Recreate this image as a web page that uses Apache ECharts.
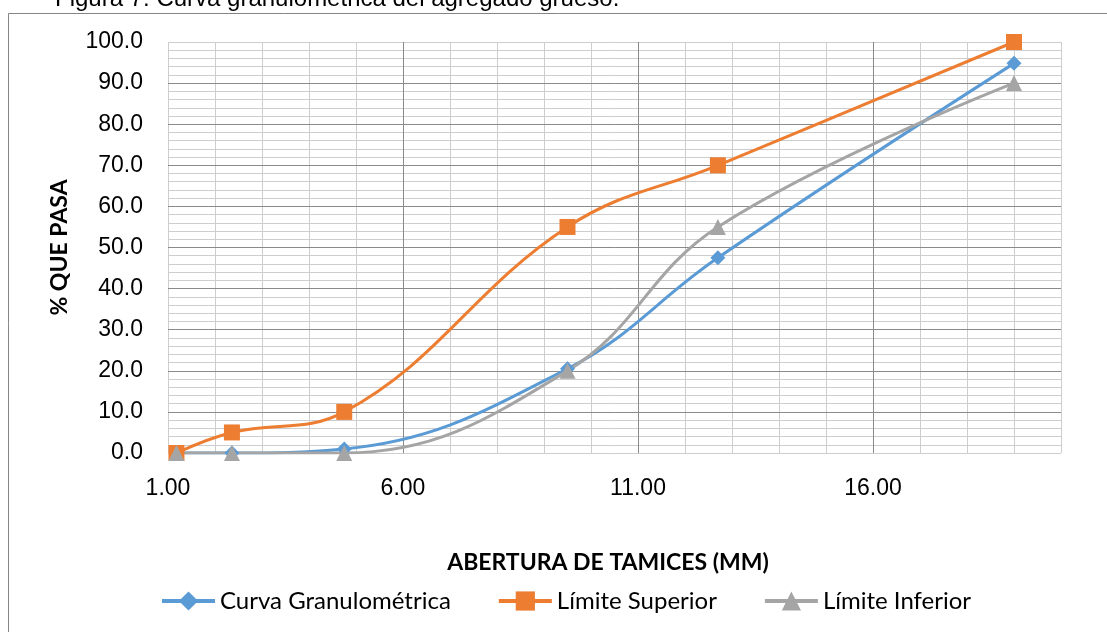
<!DOCTYPE html>
<html>
<head>
<meta charset="utf-8">
<script src="https://cdn.jsdelivr.net/npm/echarts@6/dist/echarts.min.js"></script>
<style>
html,body{margin:0;padding:0;background:#fff;}
#chart{width:1107px;height:632px;}
</style>
</head>
<body>
<div id="chart"></div>
<script>
// Data
const sieveSizes = [1.18, 2.36, 4.75, 9.5, 12.7, 19.0];
const curvaGranulometrica = [0, 0, 1.0, 20.5, 47.5, 94.8];
const limiteSuperior = [0, 5, 10, 55, 70, 100];
const limiteInferior = [0, 0, 0, 20, 55, 90];
const seriesNames = ['Curva Granulométrica', 'Límite Superior', 'Límite Inferior'];
const titleText = 'Figura 7: Curva granulométrica del agregado grueso.';
const xAxisTitle = 'ABERTURA DE TAMICES (MM)';
const yAxisTitle = '% QUE PASA';

const pairs = (ys) => sieveSizes.map((x, i) => [x, ys[i]]);

const chart = echarts.init(document.getElementById('chart'), null, {renderer: 'canvas'});
const tickFont = {fontFamily: 'Liberation Sans', fontSize: 23, color: '#000'};
const majorColor = '#8a8a8a';
const minorColor = '#cdcdcd';

const option = {
  animation: false,
  backgroundColor: '#fff',
  grid: {left: 168, top: 42, right: 46, bottom: 179, containLabel: false},
  xAxis: [
    {
      type: 'value', min: 1, max: 20, interval: 5, z: 1,
      axisLine: {show: false}, axisTick: {show: false},
      axisLabel: Object.assign({margin: 24, showMaxLabel: false,
        formatter: (v) => (v === 20 ? '' : v.toFixed(2))}, tickFont),
      splitLine: {show: true, showMinLine: false, showMaxLine: false, lineStyle: {color: majorColor, width: 1}}
    },
    {
      type: 'value', min: 1, max: 20, interval: 1, z: 0,
      axisLine: {show: false}, axisTick: {show: false}, axisLabel: {show: false},
      splitLine: {show: true, lineStyle: {color: minorColor, width: 1}}
    }
  ],
  yAxis: [
    {
      type: 'value', min: 0, max: 100, interval: 10, z: 1,
      axisLine: {show: false}, axisTick: {show: false},
      axisLabel: Object.assign({margin: 25, formatter: (v) => v.toFixed(1)}, tickFont),
      splitLine: {show: true, showMinLine: false, showMaxLine: false, lineStyle: {color: majorColor, width: 1}}
    },
    {
      type: 'value', min: 0, max: 100, interval: 2, z: 0, position: 'left',
      axisLine: {show: false}, axisTick: {show: false}, axisLabel: {show: false},
      splitLine: {show: true, lineStyle: {color: minorColor, width: 1}}
    }
  ],
  legend: {
    left: 155, top: 584,
    itemWidth: 53, itemHeight: 24, itemGap: 46,
    lineStyle: {width: 4},
    textStyle: {fontFamily: 'Lato', fontSize: 24, color: '#000'},
    data: seriesNames
  },
  graphic: [
    {type: 'rect', silent: true, shape: {x: 8.5, y: 13.5, width: 1200, height: 700},
     style: {fill: 'none', stroke: '#858585', lineWidth: 1}},
    {type: 'text', x: 55, y: -1, silent: true,
     style: {text: titleText, fontFamily: 'Liberation Sans', fontSize: 24, fill: '#000',
       align: 'left', verticalAlign: 'middle'}},
    {type: 'text', x: 608, y: 563, silent: true,
     style: {text: xAxisTitle, fontFamily: 'Lato', fontWeight: 'bold', fontSize: 23, fill: '#000',
       align: 'center', verticalAlign: 'middle'}},
    {type: 'text', x: 60, y: 247.5, rotation: Math.PI / 2, silent: true,
     style: {text: yAxisTitle, fontFamily: 'Lato', fontWeight: 'bold', fontSize: 23, fill: '#000',
       align: 'center', verticalAlign: 'middle'}}
  ],
  series: [
    {
      name: seriesNames[0], type: 'line', data: pairs(curvaGranulometrica), smooth: 0.4,
      symbol: 'diamond', symbolSize: 15,
      lineStyle: {color: '#5B9BD5', width: 3}, itemStyle: {color: '#5B9BD5'}
    },
    {
      name: seriesNames[1], type: 'line', data: pairs(limiteSuperior), smooth: 0.4,
      symbol: 'rect', symbolSize: 16,
      lineStyle: {color: '#ED7D31', width: 3}, itemStyle: {color: '#ED7D31'}
    },
    {
      name: seriesNames[2], type: 'line', data: pairs(limiteInferior), smooth: 0.4,
      symbol: 'triangle', symbolSize: 16,
      lineStyle: {color: '#A5A5A5', width: 3}, itemStyle: {color: '#A5A5A5'}
    }
  ]
};
chart.setOption(option);
</script>
</body>
</html>
